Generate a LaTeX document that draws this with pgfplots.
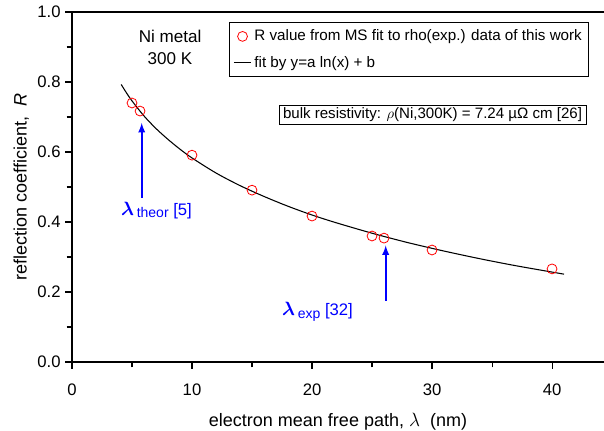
\documentclass[border=0pt]{standalone}
\usepackage{pgfplots}
\pgfplotsset{compat=1.18}
\usepackage{amsmath}
\usepackage{fontspec}
\setmainfont{Liberation Sans}
\pgfplotsset{
  shortlegend/.style={legend image code/.code={\draw[mark repeat=2,mark phase=2,##1] plot coordinates {(0pt,0pt) (6.5pt,0pt) (13pt,0pt)};}},
}
\begin{document}
\begin{tikzpicture}
% canvas: 604x430 px at 0.75 pt per px
\useasboundingbox (0,0) rectangle (453pt,322.5pt);
\begin{axis}[
  at={(54pt,51pt)}, anchor=south west,
  scale only axis, width=399pt, height=262.5pt,
  xmin=0, xmax=44.33, ymin=0, ymax=1,
  axis x line=box, axis y line=left,
  axis line style={-, line width=0.8pt},
  xtick={0,10,20,30,40}, minor xtick={5,15,25,35},
  ytick={0,0.2,0.4,0.6,0.8,1.0}, minor ytick={0.1,0.3,0.5,0.7,0.9},
  xtick pos=bottom, ytick pos=left,
  tick align=outside, major tick length=5pt, minor tick length=4pt,
  tick style={line width=0.8pt, black},
  /pgf/number format/assume math mode=true,
  yticklabel style={/pgf/number format/fixed, /pgf/number format/fixed zerofill, /pgf/number format/precision=1},
  ticklabel style={font=\fontsize{12.5}{14}\selectfont},
  xticklabel style={yshift=-8pt},
  label style={font=\fontsize{13.5}{15}\selectfont},
  xlabel={electron mean free path, $\lambda$\ \ (nm)},
  ylabel={reflection coefficient,\ \ \textit{R}},
  xlabel style={at={(axis description cs:0.5,0)}, anchor=center, yshift=-45pt},
  ylabel style={at={(axis description cs:-0.0955,0.5)}, anchor=center},
  legend style={at={(0.295,0.971)}, anchor=north west, draw=black, line width=0.6pt,
    font=\fontsize{11.4}{12}\selectfont, row sep=6pt, inner xsep=3pt, inner ysep=3.5pt},
  legend cell align=left,
]
\addplot[only marks, mark=o, mark size=3.7pt, red, mark options={line width=0.6pt}, shortlegend]
  coordinates {(5,0.740) (5.67,0.717) (10,0.591) (15,0.491) (20,0.417) (25,0.360) (26,0.354) (30,0.320) (40,0.266)};
\addlegendentry{R value from MS fit to rho(exp.) data of this work}
\addplot[black, line width=0.8pt, smooth, shortlegend]
  coordinates {(4.1,0.793) (4.5,0.771) (5,0.746) (6,0.703) (7,0.667) (8,0.636) (9,0.608) (10,0.583)
  (12,0.540) (14,0.504) (16,0.473) (18,0.445) (20,0.420) (22,0.398) (25,0.368) (28,0.341)
  (31,0.317) (34,0.295) (37,0.275) (41,0.251)};
\addlegendentry{fit by y=a ln(x) + b}
\node[align=center, font=\fontsize{12.8}{17}\selectfont] at (axis cs:8.17,0.899) {Ni metal\\300 K};
\node[draw=black, line width=0.6pt, inner xsep=3pt, inner ysep=1.5pt, font=\fontsize{11.3}{12}\selectfont] at (axis cs:30.04,0.706)
  {bulk resistivity: $\rho$(Ni,300K) = 7.24 µΩ cm [26]};
\draw[-latex, blue, line width=1.4pt] (axis cs:5.81,0.469) -- (axis cs:5.81,0.683);
\draw[-latex, blue, line width=1.4pt] (axis cs:26.14,0.175) -- (axis cs:26.14,0.333);
\node[blue, font=\fontsize{12.5}{14}\selectfont, inner sep=0pt] at (axis cs:7.04,0.434)
  {{\fontsize{14}{14}\selectfont$\boldsymbol{\lambda}$}\,{\fontsize{10.5}{12}\selectfont\raisebox{-2pt}{theor}} [5]};
\node[blue, font=\fontsize{12.5}{14}\selectfont, inner sep=0pt] at (axis cs:20.46,0.143)
  {{\fontsize{14}{14}\selectfont$\boldsymbol{\lambda}$}\,{\fontsize{10.5}{12}\selectfont\raisebox{-2pt}{exp}} [32]};
\end{axis}
\end{tikzpicture}
\end{document}
